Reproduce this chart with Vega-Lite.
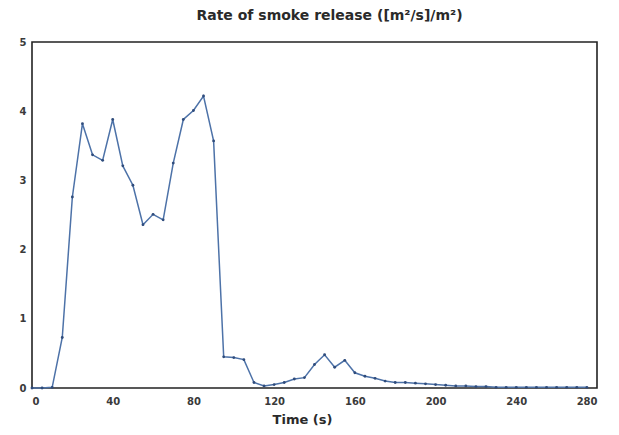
{
  "$schema": "https://vega.github.io/schema/vega-lite/v6.json",
  "width": 565,
  "height": 346,
  "autosize": "none",
  "padding": {"left": 32, "top": 42, "right": 22, "bottom": 47},
  "background": "white",
  "title": {
    "text": "Rate of smoke release ([m²/s]/m²)",
    "font": "DejaVu Sans",
    "fontSize": 14,
    "fontWeight": "bold",
    "color": "#2a2a2a",
    "anchor": "middle",
    "dx": 15,
    "offset": 14
  },
  "data": {
    "values": [
      {"t": 0, "v": 0}, {"t": 5, "v": 0}, {"t": 10, "v": 0.01},
      {"t": 15, "v": 0.73}, {"t": 20, "v": 2.76}, {"t": 25, "v": 3.82},
      {"t": 30, "v": 3.37}, {"t": 35, "v": 3.29}, {"t": 40, "v": 3.88},
      {"t": 45, "v": 3.21}, {"t": 50, "v": 2.93}, {"t": 55, "v": 2.36},
      {"t": 60, "v": 2.51}, {"t": 65, "v": 2.43}, {"t": 70, "v": 3.25},
      {"t": 75, "v": 3.88}, {"t": 80, "v": 4.01}, {"t": 85, "v": 4.22},
      {"t": 90, "v": 3.57}, {"t": 95, "v": 0.45}, {"t": 100, "v": 0.44},
      {"t": 105, "v": 0.41}, {"t": 110, "v": 0.08}, {"t": 115, "v": 0.03},
      {"t": 120, "v": 0.05}, {"t": 125, "v": 0.08}, {"t": 130, "v": 0.13},
      {"t": 135, "v": 0.15}, {"t": 140, "v": 0.34}, {"t": 145, "v": 0.48},
      {"t": 150, "v": 0.3}, {"t": 155, "v": 0.4}, {"t": 160, "v": 0.22},
      {"t": 165, "v": 0.17}, {"t": 170, "v": 0.14}, {"t": 175, "v": 0.1},
      {"t": 180, "v": 0.08}, {"t": 185, "v": 0.08}, {"t": 190, "v": 0.07},
      {"t": 195, "v": 0.06}, {"t": 200, "v": 0.05}, {"t": 205, "v": 0.04},
      {"t": 210, "v": 0.03}, {"t": 215, "v": 0.03}, {"t": 220, "v": 0.02},
      {"t": 225, "v": 0.02}, {"t": 230, "v": 0.01}, {"t": 235, "v": 0.01},
      {"t": 240, "v": 0.01}, {"t": 245, "v": 0.01}, {"t": 250, "v": 0.01},
      {"t": 255, "v": 0.01}, {"t": 260, "v": 0.01}, {"t": 265, "v": 0.01},
      {"t": 270, "v": 0.01}, {"t": 275, "v": 0.01}
    ]
  },
  "encoding": {
    "x": {
      "field": "t",
      "type": "quantitative",
      "title": "Time (s)",
      "scale": {"domain": [0, 280], "nice": false, "zero": false},
      "axis": {
        "values": [0, 40, 80, 120, 160, 200, 240, 280],
        "titleX": 270,
        "titlePadding": 7
      }
    },
    "y": {
      "field": "v",
      "type": "quantitative",
      "title": null,
      "scale": {"domain": [0, 5], "nice": false},
      "axis": {"values": [0, 1, 2, 3, 4, 5], "labelPadding": 6}
    }
  },
  "layer": [
    {
      "mark": {"type": "line", "color": "#4d72a8", "strokeWidth": 1.5}
    },
    {
      "mark": {"type": "circle", "color": "#2f4c7c", "size": 8, "opacity": 1}
    }
  ],
  "config": {
    "view": {"stroke": "#222", "strokeWidth": 1.6},
    "axis": {
      "grid": false,
      "domain": false,
      "ticks": false,
      "labelFont": "DejaVu Sans",
      "labelFontSize": 10,
      "labelFontWeight": "bold",
      "labelColor": "#3a3a3a",
      "titleFont": "DejaVu Sans",
      "titleFontSize": 13,
      "titleFontWeight": "bold",
      "titleColor": "#2a2a2a"
    },
    "axisX": {"labelPadding": 8}
  }
}
